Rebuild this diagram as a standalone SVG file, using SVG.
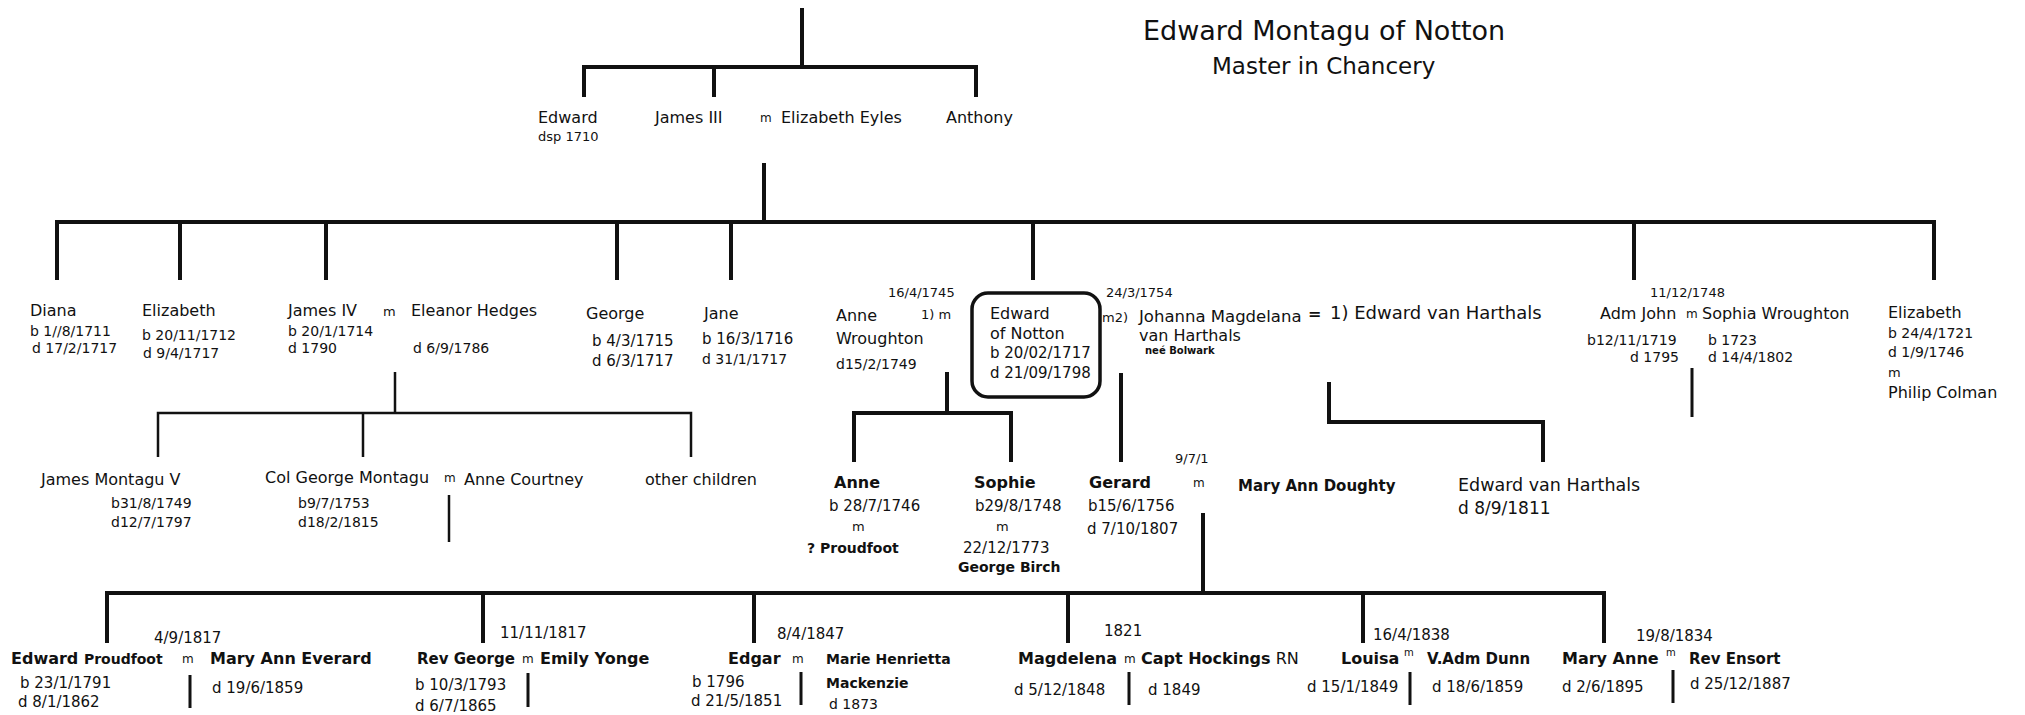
<svg xmlns="http://www.w3.org/2000/svg" width="2025" height="715" viewBox="0 0 2025 715">
<style>
text{font-family:"DejaVu Sans","Liberation Sans",sans-serif;fill:#111}
.n{font-size:16px}
.d{font-size:14px}
.d15{font-size:15px}
.s{font-size:13px}
.m{font-size:12px}
.b{font-size:16px;font-weight:bold}
.tt{font-size:27px}
.st{font-size:23px}
.ln{stroke:#111;stroke-width:4;fill:none}
.thin{stroke:#111;stroke-width:2.5;fill:none}
.mv{stroke:#111;stroke-width:3;fill:none}
</style>
<rect width="2025" height="715" fill="#fff"/>
<g id="connectors">
<path class="ln" d="M802 8V67M584 97V67H976V97M714 67V97"/>
<path class="ln" d="M764 163V222M57 280V222H1934V280M180 222V280M326 222V280M617 222V280M731 222V280M1033 222V280M1634 222V280"/>
<path class="thin" d="M395 372V413M158 457V413H691V457M363 413V457"/>
<path class="thin" d="M449 495V542"/>
<path class="ln" d="M947 372V413M854 462V413H1011V462"/>
<path class="ln" d="M1121 373V462"/>
<path class="ln" d="M1329 382V422H1543V462"/>
<path class="mv" d="M1692 368V417"/>
<path class="ln" d="M1203 513V593M107 643V593H1604V643M483 593V643M754 593V643M1068 593V643M1363 593V643"/>
<path class="mv" d="M190 675V708M528 673V707M801 672V705M1129 672V705M1410 672V705M1673 670V703"/>
</g>
<g id="title">
<text class="tt" x="1143" y="40">Edward Montagu of Notton</text>
<text class="st" x="1212" y="74">Master in Chancery</text>
</g>
<g id="edward-dsp"><text class="n" x="538" y="123">Edward</text><text class="s" x="538" y="141">dsp 1710</text></g>
<g id="james-iii"><text class="n" x="655" y="123">James III</text><text class="m" x="760" y="122">m</text><text class="n" x="781" y="123">Elizabeth Eyles</text></g>
<g id="anthony"><text class="n" x="946" y="123">Anthony</text></g>
<g id="diana"><text class="n" x="30" y="316">Diana</text><text class="d" x="30" y="336">b 1//8/1711</text><text class="d" x="32" y="353">d 17/2/1717</text></g>
<g id="elizabeth-1712"><text class="n" x="142" y="316">Elizabeth</text><text class="d" x="142" y="340">b 20/11/1712</text><text class="d" x="143" y="358">d 9/4/1717</text></g>
<g id="james-iv"><text class="n" x="288" y="316">James IV</text><text class="s" x="383" y="316">m</text><text class="n" x="411" y="316">Eleanor  Hedges</text><text class="d" x="288" y="336">b 20/1/1714</text><text class="d" x="288" y="353">d 1790</text><text class="d" x="413" y="353">d 6/9/1786</text></g>
<g id="george-1715"><text class="n" x="586" y="319">George</text><text class="d15" x="592" y="346">b 4/3/1715</text><text class="d15" x="592" y="366">d 6/3/1717</text></g>
<g id="jane"><text class="n" x="704" y="319">Jane</text><text class="d15" x="702" y="344">b 16/3/1716</text><text class="d" x="702" y="364">d 31/1/1717</text></g>
<g id="anne-wroughton"><text class="s" x="888" y="297">16/4/1745</text><text class="n" x="836" y="321">Anne</text><text class="s" x="921" y="319">1) m</text><text class="n" x="836" y="344">Wroughton</text><text class="d" x="836" y="369">d15/2/1749</text></g>
<g id="edward-of-notton"><rect x="972" y="293" width="128" height="104" rx="16" fill="none" stroke="#111" stroke-width="3.5"/><text class="n" x="990" y="319">Edward</text><text class="n" x="990" y="339">of Notton</text><text class="d15" x="990" y="358">b 20/02/1717</text><text class="d15" x="990" y="378">d 21/09/1798</text></g>
<g id="johanna"><text class="s" x="1106" y="297">24/3/1754</text><text class="s" x="1102" y="322">m2)</text><text class="n" x="1139" y="322" style="font-size:16.5px">Johanna Magdelana</text><text class="n" x="1139" y="341">van Harthals</text><text style="font-size:10px;font-weight:bold" x="1145" y="354">neé Bolwark</text></g>
<g id="edward-van-harthals-1"><text class="n" x="1308" y="319" style="font-weight:bold">=</text><text x="1330" y="319" style="font-size:18px">1) Edward van Harthals</text></g>
<g id="adm-john"><text class="s" x="1650" y="297">11/12/1748</text><text class="n" x="1600" y="319">Adm John</text><text class="m" x="1686" y="318">m</text><text class="n" x="1702" y="319">Sophia Wroughton</text><text class="d" x="1587" y="345">b12/11/1719</text><text class="d" x="1630" y="362">d 1795</text><text class="d" x="1708" y="345">b 1723</text><text class="d" x="1708" y="362">d 14/4/1802</text></g>
<g id="elizabeth-1721"><text class="n" x="1888" y="318">Elizabeth</text><text class="d" x="1888" y="338">b 24/4/1721</text><text class="d" x="1888" y="357">d 1/9/1746</text><text class="s" x="1888" y="377">m</text><text class="n" x="1888" y="398">Philip Colman</text></g>
<g id="james-montagu-v"><text class="n" x="41" y="485">James Montagu V</text><text class="d" x="111" y="508">b31/8/1749</text><text class="d" x="111" y="527">d12/7/1797</text></g>
<g id="col-george"><text class="n" x="265" y="483">Col George Montagu</text><text class="m" x="444" y="482">m</text><text class="n" x="464" y="485">Anne Courtney</text><text class="d" x="298" y="508">b9/7/1753</text><text class="d" x="298" y="527">d18/2/1815</text></g>
<g id="other-children"><text class="n" x="645" y="485">other children</text></g>
<g id="anne-1746"><text class="b" x="834" y="488">Anne</text><text class="d15" x="829" y="511">b 28/7/1746</text><text class="s" x="852" y="531">m</text><text class="b" x="807" y="553" style="font-size:14px">? Proudfoot</text></g>
<g id="sophie"><text class="b" x="974" y="488">Sophie</text><text class="d15" x="975" y="511">b29/8/1748</text><text class="s" x="996" y="531">m</text><text class="d15" x="963" y="553">22/12/1773</text><text class="b" x="958" y="572" style="font-size:14px">George Birch</text></g>
<g id="gerard"><text class="b" x="1089" y="488">Gerard</text><text class="d15" x="1088" y="511">b15/6/1756</text><text class="d15" x="1087" y="534">d 7/10/1807</text><text class="s" x="1175" y="463">9/7/1</text><text class="m" x="1193" y="487">m</text><text class="b" x="1238" y="491" style="font-size:15px">Mary Ann Doughty</text></g>
<g id="edward-van-harthals"><text x="1458" y="491" style="font-size:17.5px">Edward van Harthals</text><text x="1458" y="514" style="font-size:17px">d 8/9/1811</text></g>
<g id="edward-proudfoot"><text class="d15" x="154" y="643">4/9/1817</text><text class="b" x="11" y="664">Edward <tspan style="font-size:14px">Proudfoot</tspan></text><text class="m" x="182" y="663">m</text><text class="b" x="210" y="664">Mary Ann Everard</text><text class="d15" x="20" y="688">b 23/1/1791</text><text class="d15" x="18" y="707">d 8/1/1862</text><text class="d15" x="212" y="693">d 19/6/1859</text></g>
<g id="rev-george"><text class="d15" x="500" y="638">11/11/1817</text><text class="b" x="417" y="664" style="font-size:15px">Rev George</text><text class="m" x="522" y="663">m</text><text class="b" x="540" y="664">Emily Yonge</text><text class="d15" x="415" y="690">b 10/3/1793</text><text class="d15" x="415" y="711">d 6/7/1865</text></g>
<g id="edgar"><text class="d15" x="777" y="639">8/4/1847</text><text class="b" x="728" y="664">Edgar</text><text class="m" x="792" y="663">m</text><text class="b" x="826" y="664" style="font-size:14px">Marie Henrietta</text><text class="b" x="826" y="688" style="font-size:14px">Mackenzie</text><text class="d" x="829" y="709">d 1873</text><text class="d15" x="692" y="687">b 1796</text><text class="d15" x="691" y="706">d  21/5/1851</text></g>
<g id="magdelena"><text class="d15" x="1104" y="636">1821</text><text class="b" x="1018" y="664">Magdelena</text><text class="m" x="1124" y="663">m</text><text class="b" x="1141" y="664">Capt Hockings<tspan style="font-weight:normal"> RN</tspan></text><text class="d15" x="1014" y="695">d 5/12/1848</text><text class="d15" x="1148" y="695">d 1849</text></g>
<g id="louisa"><text class="d15" x="1373" y="640">16/4/1838</text><text class="b" x="1341" y="664">Louisa</text><text style="font-size:10px" x="1404" y="656">m</text><text class="b" x="1427" y="664" style="font-size:15px">V.Adm Dunn</text><text class="d15" x="1307" y="692">d 15/1/1849</text><text class="d15" x="1432" y="692">d 18/6/1859</text></g>
<g id="mary-anne"><text class="d15" x="1636" y="641">19/8/1834</text><text class="b" x="1562" y="664">Mary Anne</text><text style="font-size:10px" x="1666" y="656">m</text><text class="b" x="1689" y="664" style="font-size:15px">Rev Ensort</text><text class="d15" x="1562" y="692">d 2/6/1895</text><text class="d15" x="1690" y="689">d 25/12/1887</text></g>
</svg>
